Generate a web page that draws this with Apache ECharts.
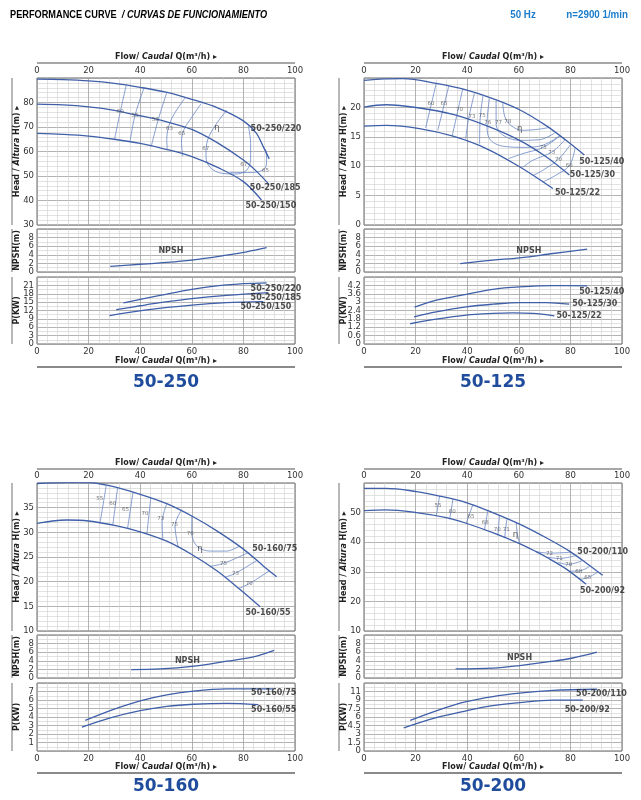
<!DOCTYPE html>
<html><head><meta charset="utf-8">
<script src="https://cdn.jsdelivr.net/npm/echarts@6/dist/echarts.min.js"></script>
<style>html,body{margin:0;padding:0;background:#fff}#c{width:641px;height:800px}</style>
</head><body><div id="c"></div>
<script>
// ---------- DATA ----------
const titles = ['50-250', '50-125', '50-160', '50-200'];
const flowRange = [0, 100, 20, 5];            // min, max, interval, minor splits

// axis scales [min, max, interval, minorSplits]
const headAxis250 = [30, 90, 10, 5];
const headAxis125 = [0, 25, 5, 5];
const headAxis160 = [10, 40, 5, 5];
const headAxis200 = [10, 60, 10, 5];
const npshAxis = [0, 10, 2, 2];
const pAxis250 = [0, 24, 3, 2];
const pAxis125 = [0, 4.8, 0.6, 2];
const pAxis160 = [0, 8, 1, 2];
const pAxis200 = [0, 12, 1.5, 2];

// ---- 50-250 ----
const h250_220 = [[0,89.5],[10,89.3],[20,88.8],[30,87.8],[40,86.2],[50,84.2],[60,81.3],[70,77.8],[80,72.5],[85,67.5],[87.7,62],[90,57]];
const h250_185 = [[0,79.3],[10,79],[20,78.2],[30,76.8],[38,75],[46,73.3],[50,72.2],[60,69],[70,63.5],[80,56.5],[85,52],[90,46.5]];
const h250_150 = [[0,67.4],[10,67],[20,66.3],[30,65],[40,63.3],[50,60.9],[60,57.9],[70,53.5],[80,47.7],[87,40.2]];
const headNames250 = [[82.6,69.2,'50-250/220'],[82.3,45.2,'50-250/185'],[80.6,37.9,'50-250/150']];
const e250 = [
  [[34.6,87.1],[32.3,76.3],[30.1,65.2]],
  [[41.5,86],[38,74.8],[36.1,64.3]],
  [[50.3,84.1],[47,73],[44.3,62.2]],
  [[57.4,81.9],[53,75],[51,70],[50.3,65],[50.5,60.8]],
  [[63.6,79.5],[60,74],[57,69],[56,64],[56.5,58.1]],
  [[73.5,76.8],[68.4,69.5],[65.8,63.3],[65.5,57.9],[67.1,53.5],[71.6,51.1],[76.8,50.8],[81.3,52.4],[82.8,57.2],[82.8,63.3],[81.9,70.5]],
  [[74.8,51.5],[82.6,51.4],[88.4,53.1],[89,57.2],[88.6,60.9]]
];
const e250Labels = [[32.3,76.3,'60'],[38,74.5,'55'],[45.8,72.9,'58'],[51.4,69.5,'63'],[56.1,67.4,'65'],[65.4,61.3,'67'],[80.1,54.5,'67'],[88.6,52.2,'65'],[69.7,69.5,'η']];
const n250 = [[28.4,1.33],[40,1.8],[47.7,2.1],[60,2.75],[73.5,3.9],[81.3,4.7],[89,5.65]];
const npshLabel250 = [[51.9,4.8,'NPSH']];
const p250_220 = [[33.5,14.7],[40,16],[47.7,17.4],[60,19.6],[73.5,21.2],[89,21.9]];
const p250_185 = [[30.7,12.3],[40,13.7],[47.7,14.8],[60,16.25],[73.5,17.4],[89.7,18.4]];
const p250_150 = [[28.1,10.2],[42.6,12.2],[60,13.9],[73.5,14.8],[87.7,15.2]];
const pNames250 = [[82.6,19.9,'50-250/220'],[82.6,16.4,'50-250/185'],[78.7,13.3,'50-250/150']];

// ---- 50-125 ----
const h125_40 = [[0,24.6],[8,24.85],[15,24.9],[28,24.1],[39.6,23],[49.9,21.5],[60.3,19.6],[70.6,16.9],[78.3,14.4],[85.4,11.9]];
const h125_30 = [[0,20.06],[8.6,20.45],[21.5,19.9],[34.5,18.8],[47.4,16.9],[60.3,14.4],[70.6,11.6],[79.6,8.5]];
const h125_22 = [[0,16.8],[8.6,16.95],[21.5,16.4],[34.5,15.1],[47.4,13],[60.3,9.9],[73.2,6.2]];
const headNames125 = [[83.2,10.7,'50-125/40'],[79.6,8.6,'50-125/30'],[73.8,5.5,'50-125/22']];
const e125 = [
  [[28,24.1],[23.9,16.5]],
  [[32.9,23.7],[28.6,16.1]],
  [[38.3,23.2],[34.2,15.2]],
  [[42.8,22.4],[40.5,18],[39.4,14.6]],
  [[46.1,21.9],[45,18],[44.8,13.8]],
  [[48.6,21.5],[47.7,17.2],[48.6,14.7],[53.8,13.4],[62.8,13.2],[69.5,13.6],[75.7,15.1]],
  [[51.2,21.1],[51.2,17.2],[53.8,15.3],[60.3,14.4],[68,14.5],[73.8,15.6]],
  [[53.8,20.7],[54.6,18.4],[57,16.9],[61.5,16.1],[68,16.3],[71.9,16.6]],
  [[76,15.2],[69.5,13.2],[62,12.2],[56,11.3]],
  [[77.9,14.5],[72.8,12.4],[65.4,11],[61.5,9.8]],
  [[79.9,13.6],[75.4,11.2],[69.3,9.3],[65.4,8.4]],
  [[81.8,13],[79.6,10.1],[74.5,8.5],[69.3,7.3]]
];
const e125Labels = [[26,20.6,'60'],[31,20.6,'65'],[37,19.6,'70'],[41.9,18.5,'73'],[45.8,18.6,'75'],[48,17.5,'76'],[52.1,17.4,'77'],[55.7,17.6,'78'],[60.3,16.4,'η'],[69.5,13.2,'75'],[72.8,12.4,'73'],[75.4,11.2,'70'],[79.6,10.1,'68']];
const n125 = [[37.3,1.96],[49.9,2.75],[60.3,3.3],[73.2,4.3],[86.5,5.33]];
const npshLabel125 = [[63.9,4.86,'NPSH']];
const p125_40 = [[19.6,2.64],[28,3.14],[39.6,3.56],[49.9,3.92],[60.3,4.09],[73.2,4.18],[86.5,4.16]];
const p125_30 = [[19.4,1.95],[28,2.3],[39.6,2.66],[49.9,2.85],[60.3,2.97],[70.6,2.97],[79.6,2.85]];
const p125_22 = [[17.9,1.45],[28,1.78],[39.6,2.07],[49.9,2.19],[57.7,2.23],[65.4,2.19],[73.8,2.02]];
const pNames125 = [[83.2,3.73,'50-125/40'],[80.5,2.85,'50-125/30'],[74.4,2.02,'50-125/22']];

// ---- 50-160 ----
const h160_75 = [[0,39.9],[11.6,40.1],[20,40.1],[28.4,39.4],[40,37.7],[50.3,35.8],[60,33.3],[69.7,30.3],[80,26.6],[87.7,23.2],[92.9,21]];
const h160_55 = [[0,31.8],[6,32.3],[11.6,32.5],[20,32.3],[31,31.3],[40,30.1],[50.3,28.2],[60,25.5],[69.7,22.2],[78.7,18.4],[86.5,14.9]];
const headNames160 = [[83.2,26.6,'50-160/75'],[80.6,13.6,'50-160/55']];
const e160 = [
  [[26.8,39.4],[24.5,32.1]],
  [[31.2,38.9],[29.4,31.5]],
  [[37.2,38.1],[35.1,30.8]],
  [[44.1,37],[42.6,29.7]],
  [[50.3,35.8],[48.5,32],[48.8,28.4]],
  [[56.1,34.6],[53.5,31.3],[54.8,26.9]],
  [[60,33.3],[60,29.9],[62,27.2],[67.1,26.2],[73.5,26.2],[78.7,27.3]],
  [[81.9,25.9],[72.3,23.7],[67.1,23.1]],
  [[85.2,24.3],[76.9,21.7],[72.9,20.9]],
  [[90,22.2],[82.3,19.6],[78,18.6]]
];
const e160Labels = [[24.3,36.8,'55'],[29.4,35.9,'60'],[34.3,34.7,'65'],[41.9,33.8,'70'],[48,32.8,'73'],[53.3,31.6,'75'],[59.4,29.7,'76'],[63.2,26.6,'η'],[72.3,23.7,'75'],[76.9,21.7,'73'],[82.3,19.6,'70']];
const n160 = [[36.5,1.94],[47.7,2.1],[60,2.7],[73.5,3.9],[83.9,4.9],[91.9,6.4]];
const npshLabel160 = [[58.3,3.9,'NPSH']];
const p160_75 = [[18.7,3.6],[29.7,4.9],[40,5.9],[50.3,6.6],[60.6,7.05],[73.5,7.3],[91.6,7.3]];
const p160_55 = [[17.4,2.8],[28.4,3.9],[40,4.75],[50.3,5.25],[60.6,5.5],[73.5,5.6],[85.8,5.45]];
const pNames160 = [[82.8,6.8,'50-160/75'],[82.8,4.8,'50-160/55']];

// ---- 50-200 ----
const h200_110 = [[0,58.2],[8.6,58.2],[20.3,57.1],[29.3,55.6],[39.6,53.4],[49.9,50],[60.3,46.1],[70.6,41.5],[79.6,37],[86.1,33],[92.5,28.8]];
const h200_92 = [[0,50.7],[8.6,50.9],[20.3,50],[31.9,48.3],[39.6,46.4],[49.9,43.2],[60.3,39.5],[66.7,36.8],[70.6,35],[78.3,31],[86.1,25.8]];
const headNames200 = [[82.5,36.7,'50-200/110'],[83.5,23.5,'50-200/92']];
const e200 = [
  [[29.3,55.6],[28,48.7]],
  [[34.5,54.7],[33.2,47.7]],
  [[42.2,52.7],[39.6,46.4]],
  [[48,50.6],[46.7,44.3]],
  [[52.5,49.1],[51.9,42.3]],
  [[55.4,48],[54.5,41.4]],
  [[59,46.6],[59.5,42.5],[60.3,39.6]],
  [[66.7,36.8],[71.9,36.3],[75.7,36.4],[80.3,36.6]],
  [[70.6,35],[75.7,34.5],[82.2,35.5]],
  [[75.1,33.2],[79,32.5],[84.8,33.8]],
  [[79.6,30.2],[83.5,30.3],[87.4,31.8]],
  [[83.5,27.5],[86.7,28],[90.6,29.9]]
];
const e200Labels = [[28.7,52.5,'55'],[34.2,50.3,'60'],[41.5,48.5,'65'],[47,46.6,'68'],[51.6,44.4,'70'],[55.1,44.4,'71'],[58.7,42.5,'η'],[71.9,36.3,'72'],[75.7,34.5,'71'],[79.4,32.4,'70'],[83.2,30.1,'68'],[86.7,28.2,'65']];
const n200 = [[35.5,2.1],[49.9,2.3],[60.3,2.9],[73.2,3.9],[80.9,4.65],[90.3,6]];
const npshLabel200 = [[60.3,4.65,'NPSH']];
const p200_110 = [[17.9,5.4],[28,7.1],[39.6,8.7],[49.9,9.6],[60.3,10.2],[73.2,10.7],[90.3,10.9]];
const p200_92 = [[15.4,4.1],[28,5.9],[39.6,7.1],[49.9,8],[60.3,8.55],[73.2,8.97],[84.8,8.97]];
const pNames200 = [[82,10,'50-200/110'],[77.6,7.25,'50-200/92']];

// ---------- LAYOUT ----------
const FONT = "'DejaVu Sans', Verdana, sans-serif";
const CURVE = '#3f5fa9', EFF = '#6a86c4', TXT = '#222';
const colX = [37, 364];
const W = 258;
const rows = [
  {head:[78,147], npsh:[229,43], p:[277,67], flowTop:57, lineTop:63, flowBot:361, lineBot:367, title:383},
  {head:[483,148], npsh:[635,43], p:[683,68], flowTop:463, lineTop:469, flowBot:767, lineBot:773, title:787}
];
const panels = [
  {col:0,row:0,title:titles[0],hAx:headAxis250,pAx:pAxis250,heads:[h250_220,h250_185,h250_150],hNames:headNames250,eff:e250,effL:e250Labels,npsh:n250,npshL:npshLabel250,pw:[p250_220,p250_185,p250_150],pNames:pNames250,hideP0:false},
  {col:1,row:0,title:titles[1],hAx:headAxis125,pAx:pAxis125,heads:[h125_40,h125_30,h125_22],hNames:headNames125,eff:e125,effL:e125Labels,npsh:n125,npshL:npshLabel125,pw:[p125_40,p125_30,p125_22],pNames:pNames125,hideP0:false},
  {col:0,row:1,title:titles[2],hAx:headAxis160,pAx:pAxis160,heads:[h160_75,h160_55],hNames:headNames160,eff:e160,effL:e160Labels,npsh:n160,npshL:npshLabel160,pw:[p160_75,p160_55],pNames:pNames160,hideP0:true},
  {col:1,row:1,title:titles[3],hAx:headAxis200,pAx:pAxis200,heads:[h200_110,h200_92],hNames:headNames200,eff:e200,effL:e200Labels,npsh:n200,npshL:npshLabel200,pw:[p200_110,p200_92],pNames:pNames200,hideP0:false}
];

const option = {animation:false, backgroundColor:'#fff', grid:[], xAxis:[], yAxis:[], series:[], graphic:[]};
const fmt = v => (v >= 10 && v % 1 !== 0) ? String(Math.round(v)) : String(+v.toFixed(2));
const yLabel = {margin:3, fontSize:8.5, color:'#333', fontFamily:FONT, formatter:fmt};

function addGrid(left, top, height, xLabels, xPos, yAx, hideMin) {
  const i = option.grid.length;
  option.grid.push({left, top, width:W, height, show:true, borderColor:'#666', borderWidth:1, backgroundColor:'#fff'});
  option.xAxis.push({gridIndex:i, type:'value', min:flowRange[0], max:flowRange[1], interval:flowRange[2], position:xPos,
    axisLine:{show:false}, axisTick:{show:false},
    axisLabel:{show:xLabels, margin:3, fontSize:8.5, color:'#333', fontFamily:FONT},
    splitLine:{show:true, lineStyle:{color:'#a0a0a0', width:0.8}},
    minorTick:{show:false, splitNumber:flowRange[3]},
    minorSplitLine:{show:true, lineStyle:{color:'#cfcfcf', width:0.6}}});
  const yi = option.yAxis.length;
  // main axis: grid lines and all labels except min and max
  option.yAxis.push({gridIndex:i, type:'value', position:'left', min:yAx[0], max:yAx[1], interval:yAx[2],
    axisLine:{show:false}, axisTick:{show:false},
    axisLabel:Object.assign({showMaxLabel:false, showMinLabel:false}, yLabel),
    splitLine:{show:true, lineStyle:{color:'#a0a0a0', width:0.8}},
    minorTick:{show:false, splitNumber:yAx[3]},
    minorSplitLine:{show:true, lineStyle:{color:'#cfcfcf', width:0.6}}});
  if (!hideMin) {
    // companion axis carrying only the min label
    option.yAxis.push({gridIndex:i, type:'value', position:'left', offset:0, min:yAx[0], max:yAx[1], interval:yAx[1]-yAx[0],
      axisLine:{show:false}, axisTick:{show:false}, splitLine:{show:false},
      axisLabel:Object.assign({showMaxLabel:false, showMinLabel:true}, yLabel)});
  }
  return [i, yi];
}
function line(ix, data, color, width) {
  option.series.push({type:'line', xAxisIndex:ix[0], yAxisIndex:ix[1], data, smooth:0.35, showSymbol:false, symbol:'none',
    lineStyle:{color, width}, silent:true, z:3});
}
function texts(ix, data, pos, size, bold, color) {
  option.series.push({type:'scatter', xAxisIndex:ix[0], yAxisIndex:ix[1], data, symbolSize:1, itemStyle:{color:'rgba(0,0,0,0)'}, silent:true, z:5,
    label:{show:true, position:pos, distance:0, formatter:p=>p.data[2], fontSize:size, fontWeight:bold?'bold':'normal', color, fontFamily:FONT}});
}
const richFlow = {b:{fontFamily:FONT, fontSize:8, fontWeight:'bold', fill:TXT, color:TXT}, i:{fontFamily:FONT, fontSize:8, fontWeight:'bold', fontStyle:'italic', fill:TXT, color:TXT}};
function gText(x, y, text, rot, extra, scaleX) {
  option.graphic.push({type:'text', x, y, rotation:rot||0, scaleX:scaleX||1, silent:true,
    style:Object.assign({text, align:'center', verticalAlign:'middle', fill:TXT, font:'bold 8px '+FONT}, extra||{})});
}
function gLine(x1,y1,x2,y2,color,w){
  option.graphic.push({type:'line', silent:true, shape:{x1,y1,x2,y2}, style:{stroke:color, lineWidth:w}});
}

panels.forEach(pn => {
  const x0 = colX[pn.col], r = rows[pn.row];
  const gh = addGrid(x0, r.head[0], r.head[1], true, 'top', pn.hAx, false);
  const gn = addGrid(x0, r.npsh[0], r.npsh[1], false, 'bottom', npshAxis, false);
  const gp = addGrid(x0, r.p[0], r.p[1], true, 'bottom', pn.pAx, pn.hideP0);
  pn.eff.forEach(d => line(gh, d, EFF, 0.8));
  pn.heads.forEach(d => line(gh, d, CURVE, 1.3));
  texts(gh, pn.effL.filter(t=>t[2]!=='η'), 'inside', 5.5, false, '#555');
  texts(gh, pn.effL.filter(t=>t[2]==='η'), 'inside', 8.5, false, '#333');
  texts(gh, pn.hNames, 'right', 8, true, TXT);
  line(gn, pn.npsh, CURVE, 1.3);
  texts(gn, pn.npshL, 'inside', 8, true, TXT);
  pn.pw.forEach(d => line(gp, d, CURVE, 1.3));
  texts(gp, pn.pNames, 'right', 8, true, TXT);

  const cx = x0 + W/2;
  const flowRich = '{b|Flow/ }{i|Caudal}{b| Q(m³/h) ▸}';
  option.graphic.push({type:'text', x:cx, y:r.flowTop, silent:true, style:{text:flowRich, rich:richFlow, align:'center', verticalAlign:'middle'}});
  option.graphic.push({type:'text', x:cx, y:r.flowBot, silent:true, style:{text:flowRich, rich:richFlow, align:'center', verticalAlign:'middle'}});
  gLine(x0, r.lineTop, x0+W, r.lineTop, '#8a8a8a', 1.5);
  gLine(x0, r.lineBot, x0+W, r.lineBot, '#8a8a8a', 2);
  gText(cx, r.title, pn.title, 0, {font:'bold 17px '+FONT, fill:'#1f4c9c'});
  const sx = x0 - 25;
  [[r.head[0], r.head[1]], [r.npsh[0], r.npsh[1]], [r.p[0], r.p[1]]].forEach(([t,h]) => gLine(sx, t, sx, t+h, '#888', 1.2));
  option.graphic.push({type:'text', x:x0-20, y:r.head[0]+r.head[1]/2, rotation:Math.PI/2, silent:true,
    style:{text:'{b|Head / }{i|Altura}{b| H(m) ▸}', rich:richFlow, align:'center', verticalAlign:'middle'}});
  gText(x0-20, r.npsh[0]+r.npsh[1]/2, 'NPSH(m)', Math.PI/2);
  gText(x0-20, r.p[0]+r.p[1]/2, 'P(KW)', Math.PI/2);
});

// header
const HB = '#1c7ccc';
const HF = "'Liberation Sans', Arial, sans-serif";
option.graphic.push({type:'text', x:10, y:15, scaleX:0.8, silent:true, style:{text:'{a|PERFORMANCE CURVE}{c|  / CURVAS DE FUNCIONAMIENTO}', verticalAlign:'middle', align:'left',
  rich:{a:{fontFamily:HF, fontSize:11.5, fontWeight:'bold', color:HB}, c:{fontFamily:HF, fontSize:11.5, fontWeight:'bold', fontStyle:'italic', color:HB}}}});
gText(523, 15, '50 Hz', 0, {font:'bold 11.5px '+HF, fill:HB}, 0.85);
gText(628, 15, 'n=2900 1/min', 0, {font:'bold 11.5px '+HF, fill:HB, align:'right'}, 0.85);

const chart = echarts.init(document.getElementById('c'), null, {renderer:'canvas'});
chart.setOption(option);
</script></body></html>
